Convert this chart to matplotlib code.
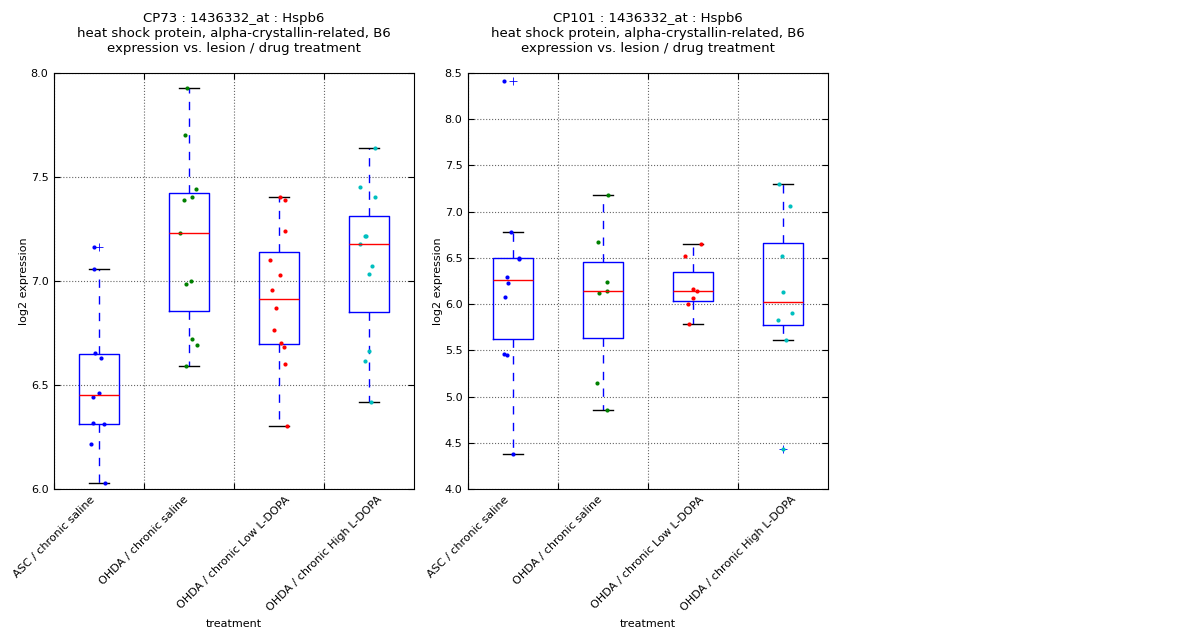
import matplotlib
matplotlib.use("Agg")
import matplotlib.pyplot as plt
import numpy as np

GROUPS = ["ASC / chronic saline", "OHDA / chronic saline",
          "OHDA / chronic Low L-DOPA", "OHDA / chronic High L-DOPA"]
COLORS = ["#0000ff", "#008000", "#ff0000", "#00bfbf"]

# CP73 values per group, and horizontal jitter of the dots
cp73_asc = [7.163, 7.058, 6.654, 6.631, 6.463, 6.442, 6.319, 6.312, 6.218, 6.029]
cp73_asc_jit = [-0.056, -0.056, -0.044, 0.022, 0.0, -0.07, -0.07, 0.056, -0.089, 0.067]
cp73_sal = [7.928, 7.702, 7.444, 7.405, 7.389, 7.231, 7.001, 6.987, 6.723, 6.692, 6.591]
cp73_sal_jit = [-0.026, -0.041, 0.074, 0.037, -0.052, -0.096, 0.019, -0.03, 0.037, 0.085, -0.037]
cp73_low = [7.405, 7.389, 7.242, 7.102, 7.030, 6.958, 6.872, 6.766, 6.704, 6.684, 6.602, 6.304]
cp73_low_jit = [0.015, 0.07, 0.063, -0.104, 0.015, -0.081, -0.037, -0.059, 0.026, 0.052, 0.063, 0.085]
cp73_high = [7.639, 7.453, 7.405, 7.218, 7.218, 7.179, 7.074, 7.035, 6.665, 6.617, 6.420]
cp73_high_jit = [0.063, -0.096, 0.063, -0.048, -0.03, -0.104, 0.037, -0.004, 0.004, -0.041, 0.026]

# CP101 values per group
cp101_asc = [8.414, 6.780, 6.499, 6.491, 6.297, 6.232, 6.077, 5.464, 5.450, 4.382]
cp101_asc_jit = [-0.096, -0.019, 0.063, 0.07, -0.067, -0.056, -0.085, -0.096, -0.067, 0.0]
cp101_sal = [7.180, 6.675, 6.243, 6.145, 6.124, 5.150, 4.858]
cp101_sal_jit = [0.059, -0.052, 0.048, 0.048, -0.041, -0.063, 0.048]
cp101_low = [6.654, 6.524, 6.167, 6.145, 6.070, 6.001, 5.789]
cp101_low_jit = [0.093, -0.085, -0.004, 0.048, 0.004, -0.052, -0.048]
cp101_high = [7.303, 7.065, 6.524, 6.134, 5.907, 5.831, 5.615, 4.43]
cp101_high_jit = [-0.041, 0.074, -0.015, -0.004, 0.096, -0.052, 0.03, 0.0]

TITLE_TAIL = "heat shock protein, alpha-crystallin-related, B6\nexpression vs. lesion / drug treatment"


def draw_panel(ax, data, jitter, title, yticks):
    ax.boxplot(data, sym="+", widths=0.45,
               boxprops=dict(color="#0000ff"),
               whiskerprops=dict(color="#0000ff", linestyle="--", dashes=(6, 6)),
               capprops=dict(color="black"),
               medianprops=dict(color="#ff0000"),
               flierprops=dict(marker="+", markeredgecolor="#0000ff", markersize=6,
                               markeredgewidth=0.6))
    for i, (vals, jit) in enumerate(zip(data, jitter)):
        x = (i + 1) + np.array(jit)
        ax.plot(x, vals, "o", color=COLORS[i], markersize=3, markeredgewidth=0)
    # labels sit on the category boundaries, centred, as in the original
    ax.set_xticks([0.5, 1.5, 2.5, 3.5])
    ax.set_xticklabels(GROUPS, rotation=45, ha="center", fontsize=8)
    ax.set_yticks(yticks)
    ax.set_yticklabels([f"{t:.1f}" for t in yticks], fontsize=8)
    ax.set_ylim(yticks[0], yticks[-1])
    ax.set_xlim(0.5, 4.5)
    ax.tick_params(direction="in", left=True, right=True, top=True, bottom=True,
                   length=4, pad=4)
    ax.grid(True, linestyle=":", color="0.4", linewidth=0.8)
    ax.set_xlabel("treatment", fontsize=8)
    ax.set_ylabel("log2 expression", fontsize=8, labelpad=1.5)
    ax.set_title(title, fontsize=9.5, pad=15)


def main():
    fig = plt.figure(figsize=(12, 6.4), dpi=100)
    ax1 = fig.add_axes([0.045, 0.236, 0.3, 0.65])
    ax2 = fig.add_axes([0.39, 0.236, 0.3, 0.65])

    draw_panel(ax1, [cp73_asc, cp73_sal, cp73_low, cp73_high],
               [cp73_asc_jit, cp73_sal_jit, cp73_low_jit, cp73_high_jit],
               "CP73 : 1436332_at : Hspb6\n" + TITLE_TAIL,
               np.arange(6.0, 8.01, 0.5))
    draw_panel(ax2, [cp101_asc, cp101_sal, cp101_low, cp101_high],
               [cp101_asc_jit, cp101_sal_jit, cp101_low_jit, cp101_high_jit],
               "CP101 : 1436332_at : Hspb6\n" + TITLE_TAIL,
               np.arange(4.0, 8.51, 0.5))

    fig.savefig("out.png", dpi=100, facecolor="white")


if __name__ == "__main__":
    main()
